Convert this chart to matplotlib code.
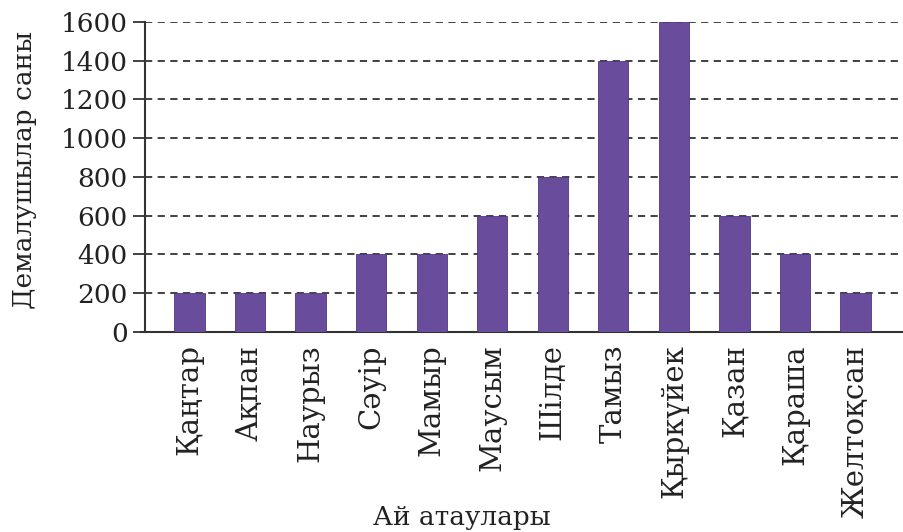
# -*- coding: utf-8 -*-
import matplotlib as mpl
import matplotlib.pyplot as plt

# данные: айлар бойынша демалушылар саны
months = ["Қаңтар", "Ақпан", "Наурыз", "Сәуір", "Мамыр", "Маусым",
          "Шілде", "Тамыз", "Қыркүйек", "Қазан", "Қараша", "Желтоқсан"]
visitors = [200, 200, 200, 400, 400, 600, 800, 1400, 1600, 600, 400, 200]
yticks = [0, 200, 400, 600, 800, 1000, 1200, 1400, 1600]

TXT = "#222222"
mpl.rcParams.update({
    "font.family": ["DejaVu Serif"],
    "font.size": 19,
    "text.color": TXT,
    "axes.labelcolor": TXT,
    "xtick.color": TXT,
    "ytick.color": TXT,
})

BAR = "#6a4c9c"
INK = "#333333"

fig = plt.figure(figsize=(9.04, 5.32), dpi=100)
ax = fig.add_axes([0.160, 0.376, 0.840, 0.583])

x = list(range(len(months)))
ax.bar(x, visitors, width=0.5, color=BAR, edgecolor="#4f3680", linewidth=0.6, zorder=3)

ax.set_xlim(-0.74, 11.8)
ax.set_ylim(0, 1600)
ax.set_yticks(yticks)
ax.set_yticklabels([str(v) for v in yticks], fontsize=19)
ax.set_xticks(x)
ax.set_xticklabels(months, rotation=90, fontsize=21)

# пунктир торы
for v in yticks[1:]:
    ax.axhline(v, color=INK, lw=1.3, ls=(0, (4, 3)), zorder=1)

for s in ("top", "right"):
    ax.spines[s].set_visible(False)
for s in ("left", "bottom"):
    ax.spines[s].set_color(INK)
    ax.spines[s].set_linewidth(1.5)
ax.spines["bottom"].set_bounds(-0.8, 11.8)
ax.tick_params(axis="y", length=9, width=1.3, pad=3, color=INK)
ax.tick_params(axis="x", length=0, pad=9)

# ось атаулары
fig.text(25 / 904, 0.68, "Демалушылар саны", rotation=90, fontsize=19,
         ha="center", va="center")
fig.text(462 / 904, 2 / 532, "Ай атаулары", fontsize=19, ha="center", va="bottom")

fig.savefig("out.png", dpi=100)
